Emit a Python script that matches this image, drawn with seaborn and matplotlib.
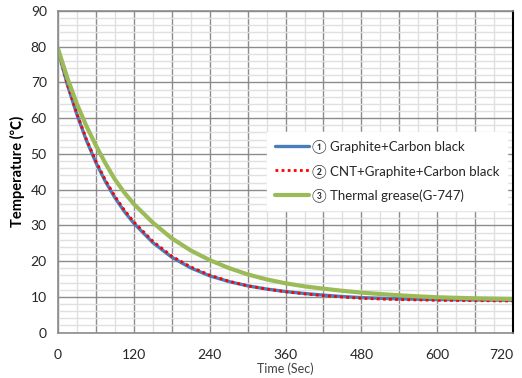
import matplotlib
matplotlib.use("Agg")
import matplotlib.pyplot as plt
import matplotlib.ticker as mticker
import seaborn as sns
import pandas as pd

# Temps (s) et températures
time_sec = [0, 15, 30, 45, 60, 75, 90, 105, 120, 150, 180, 210, 240, 270, 300,
            330, 360, 390, 420, 450, 480, 510, 540, 570, 600, 630, 660, 690, 720]
graphite_cb = [79.0, 69.3, 61.0, 53.8, 47.6, 42.3, 37.8, 33.9, 30.6, 25.2, 21.1,
               18.1, 15.9, 14.3, 13.1, 12.2, 11.5, 10.95, 10.5, 10.1, 9.8, 9.6,
               9.45, 9.35, 9.25, 9.2, 9.15, 9.1, 9.05]
cnt_graphite_cb = [79.0, 69.5, 61.3, 54.1, 48.0, 42.7, 38.2, 34.3, 31.0, 25.6, 21.4,
                   18.4, 16.1, 14.4, 13.1, 12.2, 11.45, 10.85, 10.35, 9.95, 9.6, 9.4,
                   9.25, 9.15, 9.05, 9.0, 8.95, 8.9, 8.85]
thermal_grease = [79.5, 71.2, 64.0, 57.8, 52.4, 47.4, 42.9, 39.2, 36.0, 30.8, 26.4,
                  23.0, 20.3, 18.1, 16.3, 14.9, 13.8, 12.95, 12.3, 11.7, 11.2, 10.8,
                  10.45, 10.15, 9.9, 9.75, 9.6, 9.5, 9.4]

labels = ["\u2460 Graphite+Carbon black",
          "\u2461 CNT+Graphite+Carbon black",
          "\u2462 Thermal grease(G-747)"]

df = pd.DataFrame({"t": time_sec, "s1": graphite_cb, "s2": cnt_graphite_cb, "s3": thermal_grease})

sns.set_style("white")
plt.rcParams['font.family'] = ['Lato', 'Noto Sans CJK JP', 'DejaVu Sans']

fig = plt.figure(figsize=(5.22, 3.78), dpi=100)
ax = fig.add_axes([0.111, 0.12, 0.872, 0.851])

# Grille style Excel
ax.set_xlim(0, 720)
ax.set_ylim(0, 90)
ax.xaxis.set_major_locator(mticker.MultipleLocator(60))
ax.xaxis.set_minor_locator(mticker.MultipleLocator(30))
ax.yaxis.set_major_locator(mticker.MultipleLocator(10))
ax.yaxis.set_minor_locator(mticker.MultipleLocator(2))
ax.xaxis.set_major_formatter(mticker.FuncFormatter(lambda v, p: f"{int(v)}" if int(v) % 120 == 0 else ""))
ax.grid(which="major", color="#8c8c8c", linewidth=1.0)
ax.grid(which="minor", color="#e0e0e0", linewidth=1.0)
ax.set_axisbelow(True)

sns.lineplot(data=df, x="t", y="s1", ax=ax, color="#4a7ebb", linewidth=2.4, label=labels[0])
sns.lineplot(data=df, x="t", y="s2", ax=ax, color="#ff0000", linewidth=2.0, linestyle=(0, (1, 1.2)), label=labels[1])
sns.lineplot(data=df, x="t", y="s3", ax=ax, color="#9bbb59", linewidth=3.0, label=labels[2])

for side in ["left", "bottom", "top"]:
    ax.spines[side].set_color("#8c8c8c")
    ax.spines[side].set_linewidth(1.2)
ax.spines["right"].set_color("black")
ax.spines["right"].set_linewidth(1.5)

ax.tick_params(axis="both", which="both", length=0, labelsize=10, colors="#262626")
ax.tick_params(axis="x", pad=12)
ax.tick_params(axis="y", pad=8)

# le dernier label (720) est aligné sur le bord droit, comme dans Excel
fig.canvas.draw()
xt = [t for t in ax.get_xticklabels() if t.get_text()]
xt[-1].set_horizontalalignment("right")

ax.set_xlabel("Time (Sec)", fontsize=9, color="#404040", labelpad=1)
ax.set_ylabel("Temperature (\u2103)", fontsize=10.5, fontweight="bold", color="black", labelpad=4)

leg = ax.legend(loc="upper left", bbox_to_anchor=(0.445, 0.645), fontsize=9.5,
                handlelength=2.6, handletextpad=0.2, labelspacing=0.8,
                frameon=True, fancybox=False, edgecolor="white", facecolor="white",
                framealpha=1.0, borderpad=0.6)
for txt in leg.get_texts():
    txt.set_color("#262626")

fig.savefig("out.png", dpi=100)
